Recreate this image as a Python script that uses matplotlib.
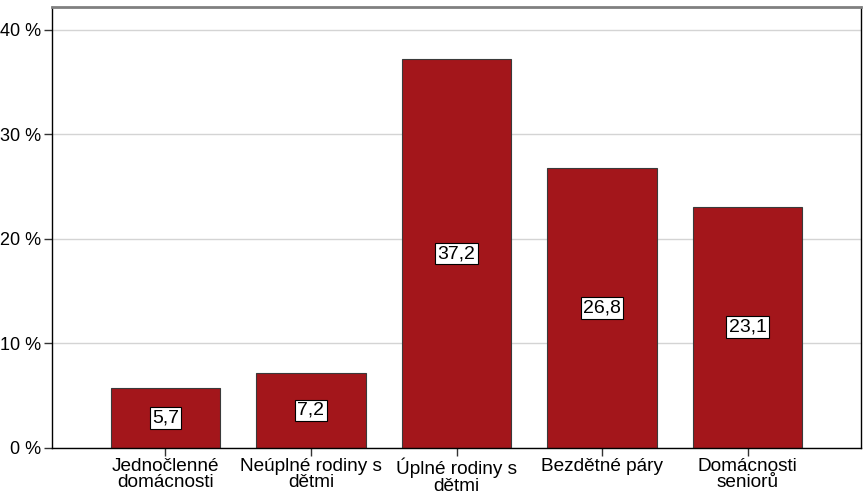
import matplotlib
matplotlib.use('Agg')
import matplotlib.pyplot as plt

plt.rcParams['font.family'] = ['Liberation Sans', 'DejaVu Sans']

# ── data ──
categories = ['Jednočlenné\ndomácnosti', 'Neúplné rodiny s\ndětmi', 'Úplné rodiny s\ndětmi',
              'Bezdětné páry', 'Domácnosti\nseniorů']
values = [5.7, 7.2, 37.2, 26.8, 23.1]
yticks = [0, 10, 20, 30, 40]

BAR = '#a3161b'

fig = plt.figure(figsize=(8.65, 5.03), dpi=100)
ax = fig.add_axes([52 / 865, 1 - 448 / 503, (861 - 52) / 865, (448 - 7) / 503])

x = list(range(len(values)))
ax.bar(x, values, width=0.75, color=BAR, edgecolor='#3a3a3a', linewidth=0.8, zorder=2)

for xi, v in zip(x, values):
    ax.text(xi, v / 2, f'{v:.1f}'.replace('.', ','), ha='center', va='center',
            fontsize=14, color='black', zorder=4,
            bbox=dict(boxstyle='square,pad=0.12', facecolor='white',
                      edgecolor='black', linewidth=0.8))

ax.set_xlim(-0.78, 4.78)
ax.set_ylim(0, 42.2)
ax.set_yticks(yticks)
ax.set_yticklabels([f'{t} %' for t in yticks], fontsize=13)
ax.set_xticks(x)
ax.set_xticklabels(categories, fontsize=13.7, linespacing=0.95)
ax.yaxis.grid(True, color='#d4d4d4', linewidth=1, zorder=0)
ax.set_axisbelow(True)

ax.tick_params(axis='both', length=6, width=1, color='#333333', pad=2)
ax.tick_params(axis='x', pad=1)

for s in ['left', 'bottom', 'right']:
    ax.spines[s].set_color('black')
    ax.spines[s].set_linewidth(1)
ax.spines['top'].set_color('#808080')
ax.spines['top'].set_linewidth(2)

fig.savefig('out.png', dpi=100, facecolor='white')
